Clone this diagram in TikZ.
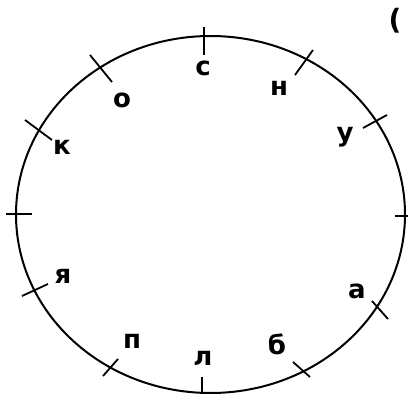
\documentclass[tikz,border=0pt]{standalone}
\usepackage{fontspec}
\setmainfont{DejaVu Sans}
\begin{document}
\begin{tikzpicture}[x=1pt,y=-1pt,
  lbl/.style={font=\fontsize{26}{26}\selectfont\bfseries, inner sep=0pt, anchor=center},
  rim/.style={line width=2pt, black},
  tick/.style={line width=1.8pt, black}]
\useasboundingbox (0,0) rectangle (408,394);
% circle
\draw[rim] (210.5,214.5) ellipse [x radius=194.5, y radius=178.5];
% ticks
\draw[tick] (204,27) -- (204,55);
\draw[tick] (295,75) -- (313,50);
\draw[tick] (363,128) -- (387,115);
\draw[tick] (395,216) -- (408,216);
\draw[tick] (372,301) -- (388,319);
\draw[tick] (293,362) -- (310,377);
\draw[tick] (202,377) -- (202,394);
\draw[tick] (103,376) -- (118,359);
\draw[tick] (22,296) -- (48,284);
\draw[tick] (6,214) -- (32,214);
\draw[tick] (25,120) -- (52,140);
\draw[tick] (90,55) -- (112,82);
% letters
\node[lbl] (ls) at (203,68) {с};
\node[lbl] (ln) at (279,88) {н};
\node[lbl] (lu) at (345,137) {у};
\node[lbl] (la) at (357,291) {а};
\node[lbl] (lb) at (277,344) {б};
\node[lbl] (ll) at (203,358) {л};
\node[lbl] (lp) at (132,341) {п};
\node[lbl] (lya) at (63,276) {я};
\node[lbl] (lk) at (62,147) {к};
\node[lbl] (lo) at (122,100) {о};
\node[lbl, font=\fontsize{28}{28}\selectfont\bfseries] (par) at (395,21) {(};
\end{tikzpicture}
\end{document}
